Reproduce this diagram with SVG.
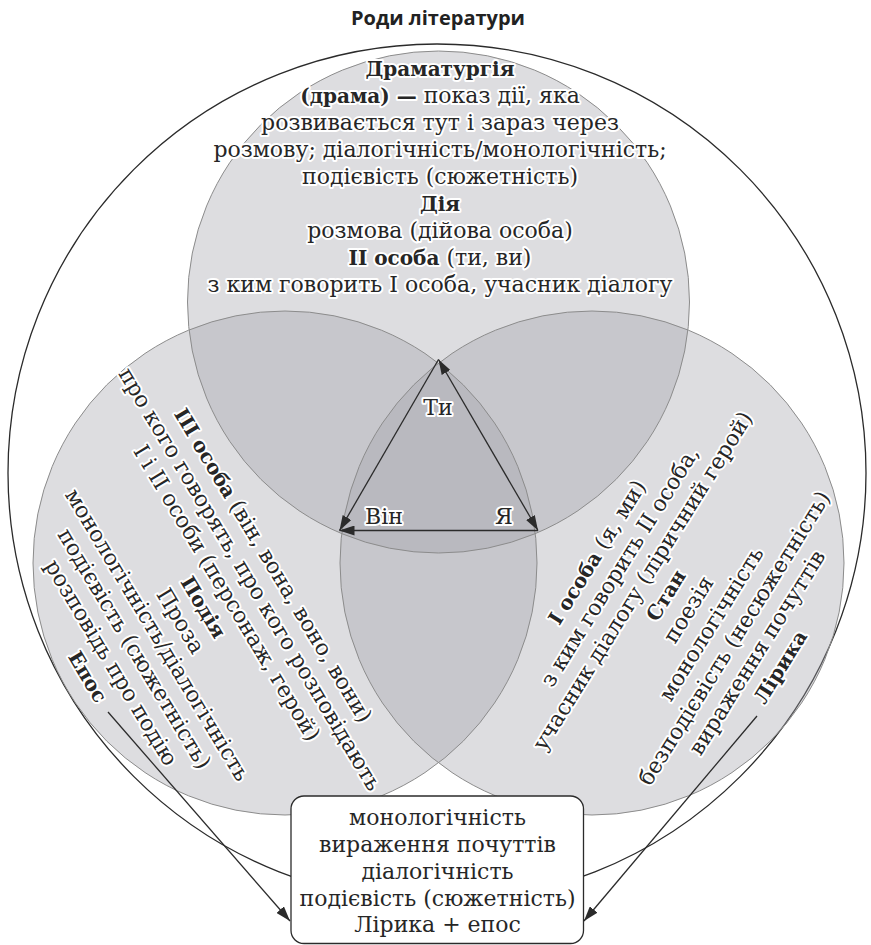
<svg xmlns="http://www.w3.org/2000/svg" width="871" height="945" viewBox="0 0 871 945">
  <style>
    .t { font-family: "DejaVu Serif", "Liberation Serif", serif; font-size: 22px; fill: #262626; text-anchor: middle; }
    .h { paint-order: stroke; stroke: #ffffff; stroke-width: 4px; stroke-linejoin: round; }
    .b { font-weight: bold; font-size: 20px; }
    .title { font-family: "Open Sans", "Noto Sans", sans-serif; font-size: 20px; font-weight: bold; fill: #222; text-anchor: middle; }
    .cf { fill: #a0a2a8; fill-opacity: 0.36; stroke: none; }
    .cs { fill: none; stroke: #8c8c8c; stroke-width: 1; }
    .ln { fill: none; stroke: #2b2b2b; stroke-width: 1.3; }
  </style>
  <defs>
    <marker id="ah" markerUnits="userSpaceOnUse" markerWidth="15" markerHeight="10" refX="15" refY="5" orient="auto-start-reverse">
      <path d="M0,0 L15,5 L0,10 Z" fill="#2b2b2b"/>
    </marker>
  </defs>

  <rect width="871" height="945" fill="#ffffff"/>

  <text class="title" x="438" y="25">Роди літератури</text>

  <g id="outer">
    <circle cx="437" cy="473" r="429" fill="none" stroke="#2b2b2b" stroke-width="1.3"/>
  </g>

  <g id="fills">
    <circle class="cf" cx="438.5" cy="302" r="251"/>
    <circle class="cf" cx="285" cy="563" r="252"/>
    <circle class="cf" cx="592" cy="563" r="252"/>
  </g>

  <g id="drama">
    <circle class="cs" cx="438.5" cy="302" r="251"/>
  </g>
  <g id="epos">
    <circle class="cs" cx="285" cy="563" r="252"/>
  </g>
  <g id="lyric">
    <circle class="cs" cx="592" cy="563" r="252"/>
  </g>

  <g id="connectors">
    <line class="ln" x1="438.5" y1="359.5" x2="339.5" y2="530.5" marker-end="url(#ah)"/>
    <line class="ln" x1="538" y1="530.5" x2="339.5" y2="530.5" marker-end="url(#ah)"/>
    <line class="ln" x1="438.5" y1="359.5" x2="538" y2="530.5" marker-start="url(#ah)" marker-end="url(#ah)"/>
    <line class="ln" x1="108" y1="712" x2="290" y2="921" marker-end="url(#ah)"/>
    <line class="ln" x1="757" y1="716" x2="584" y2="921" marker-end="url(#ah)"/>
  </g>

  <g id="drama-text">
    <text class="t h b" x="440" y="76">Драматургія</text>
    <text class="t h" x="440" y="103"><tspan class="b">(драма) —</tspan> показ дії, яка</text>
    <text class="t h" x="440" y="130">розвивається тут і зараз через</text>
    <text class="t h" x="440" y="157">розмову; діалогічність/монологічність;</text>
    <text class="t h" x="440" y="184">подієвість (сюжетність)</text>
    <text class="t h b" x="440" y="211">Дія</text>
    <text class="t h" x="440" y="238">розмова (дійова особа)</text>
    <text class="t h" x="440" y="265"><tspan class="b">II особа</tspan> (ти, ви)</text>
    <text class="t h" x="440" y="292">з ким говорить I особа, учасник діалогу</text>
  </g>

  <g id="epos-text" transform="translate(272,566) rotate(59)">
    <text class="t h" x="0" y="6"><tspan class="b">III особа</tspan> (він, вона, воно, вони)</text>
    <text class="t h" x="0" y="33">про кого говорять, про кого розповідають</text>
    <text class="t h" x="0" y="60">I і II особи (персонаж, герой)</text>
    <text class="t h b" x="0" y="87">Подія</text>
    <text class="t h" x="0" y="114">Проза</text>
    <text class="t h" x="0" y="141">монологічність/діалогічність</text>
    <text class="t h" x="0" y="168">подієвість (сюжетність)</text>
    <text class="t h" x="0" y="195">розповідь про подію</text>
    <text class="t h b" x="0" y="222">Епос</text>
  </g>

  <g id="lyric-text" transform="translate(598,553) rotate(-58)">
    <text class="t h" x="0" y="6"><tspan class="b">I особа</tspan> (я, ми)</text>
    <text class="t h" x="0" y="33">з ким говорить II особа,</text>
    <text class="t h" x="0" y="60">учасник діалогу (ліричний герой)</text>
    <text class="t h b" x="0" y="87">Стан</text>
    <text class="t h" x="0" y="114">поезія</text>
    <text class="t h" x="0" y="141">монологічність</text>
    <text class="t h" x="0" y="168">безподієвість (несюжетність)</text>
    <text class="t h" x="0" y="195">вираження почуттів</text>
    <text class="t h b" x="0" y="222">Лірика</text>
  </g>

  <g id="center-labels">
    <text class="t h" x="438" y="415">Ти</text>
    <text class="t h" x="384" y="524">Він</text>
    <text class="t h" x="504" y="524">Я</text>
  </g>

  <g id="box">
    <rect x="291" y="796" width="292.5" height="147.5" rx="13" ry="13" fill="#ffffff" stroke="#2b2b2b" stroke-width="1.3"/>
    <text class="t" x="437.5" y="825">монологічність</text>
    <text class="t" x="437.5" y="852">вираження почуттів</text>
    <text class="t" x="437.5" y="879">діалогічність</text>
    <text class="t" x="437.5" y="906">подієвість (сюжетність)</text>
    <text class="t" x="437.5" y="932">Лірика + епос</text>
  </g>
</svg>
